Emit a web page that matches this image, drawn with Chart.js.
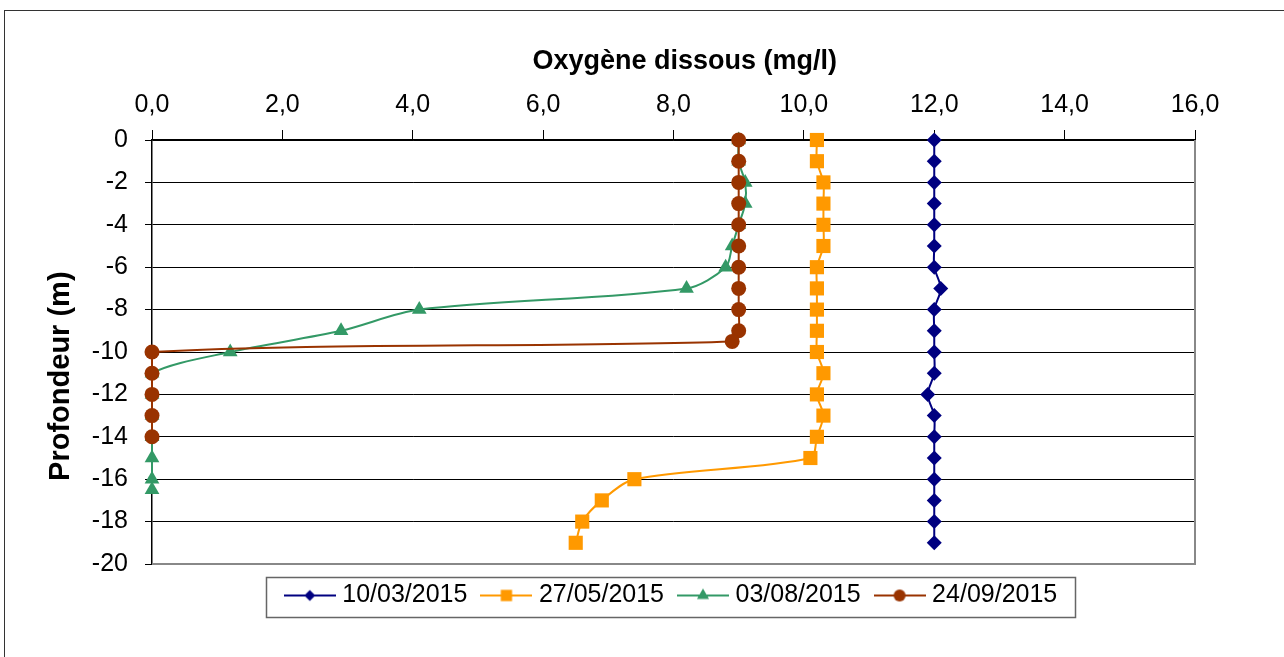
<!DOCTYPE html>
<html>
<head>
<meta charset="utf-8">
<script src="https://cdn.jsdelivr.net/npm/chart.js@4.4.1/dist/chart.umd.min.js"></script>
<style>
  html, body { margin: 0; padding: 0; background: #fff; }
  #wrap { position: relative; width: 1284px; height: 657px; overflow: hidden; }
  #frame { position: absolute; left: 4px; top: 10px; width: 1400px; height: 800px; border-left: 1px solid #333; border-top: 1px solid #333; }
  canvas { position: absolute; left: 0; top: 0; }
</style>
</head>
<body>
<div id="wrap">
  <div id="frame"></div>
  <canvas id="c" width="1284" height="657"></canvas>
</div>
<script>
// ---- Data ----
const seriesNames = ['10/03/2015', '27/05/2015', '03/08/2015', '24/09/2015'];

const depthsMar = [0, -1, -2, -3, -4, -5, -6, -7, -8, -9, -10, -11, -12, -13, -14, -15, -16, -17, -18, -19];
const oxyMar    = [12.0, 12.0, 12.0, 12.0, 12.0, 12.0, 12.0, 12.1, 12.0, 12.0, 12.0, 12.0, 11.9, 12.0, 12.0, 12.0, 12.0, 12.0, 12.0, 12.0];

const depthsMay = [0, -1, -2, -3, -4, -5, -6, -7, -8, -9, -10, -11, -12, -13, -14, -15, -16, -17, -18, -19];
const oxyMay    = [10.2, 10.2, 10.3, 10.3, 10.3, 10.3, 10.2, 10.2, 10.2, 10.2, 10.2, 10.3, 10.2, 10.3, 10.2, 10.1, 7.4, 6.9, 6.6, 6.5];

const depthsAug = [0, -1, -2, -3, -4, -5, -6, -7, -8, -9, -10, -11, -12, -13, -14, -15, -16, -16.5];
const oxyAug    = [9.0, 9.0, 9.1, 9.1, 9.0, 8.9, 8.8, 8.2, 4.1, 2.9, 1.2, 0, 0, 0, 0, 0, 0, 0];

const depthsSep = [0, -1, -2, -3, -4, -5, -6, -7, -8, -9, -9.5, -10, -11, -12, -13, -14];
const oxySep    = [9.0, 9.0, 9.0, 9.0, 9.0, 9.0, 9.0, 9.0, 9.0, 9.0, 8.9, 0, 0, 0, 0, 0];

const xTicks = [0, 2, 4, 6, 8, 10, 12, 14, 16];
const yTicks = [0, -2, -4, -6, -8, -10, -12, -14, -16, -18, -20];

// ---- Styles ----
const colors = ['#000080', '#FF9900', '#339966', '#993300'];
const styles = ['rectRot', 'rect', 'triangle', 'circle'];
const radii  = [7.5, 10, 8.5, 7.5];
const legendRadii = [5.5, 8, 7, 6];
const drawOrder = [4, 3, 2, 1];
const FONT = '"Liberation Sans", Arial, sans-serif';

function pts(xs, ys) { return xs.map((v, i) => ({ x: v, y: ys[i] })); }
const allData = [pts(oxyMar, depthsMar), pts(oxyMay, depthsMay), pts(oxyAug, depthsAug), pts(oxySep, depthsSep)];

function legendIcon(i) {
  const cv = document.createElement('canvas');
  cv.width = 52; cv.height = 20;
  const ctx = cv.getContext('2d');
  ctx.strokeStyle = colors[i];
  ctx.lineWidth = 2;
  ctx.beginPath(); ctx.moveTo(0, 10); ctx.lineTo(52, 10); ctx.stroke();
  ctx.fillStyle = colors[i];
  Chart.helpers.drawPoint(ctx, { pointStyle: styles[i], radius: legendRadii[i], rotation: 0, borderWidth: 0 }, 26, 10);
  return cv;
}
const legendIcons = seriesNames.map((_, i) => legendIcon(i));

const datasets = seriesNames.map((name, i) => ({
  label: name,
  data: allData[i],
  showLine: true,
  clip: false,
  borderColor: colors[i],
  backgroundColor: colors[i],
  borderWidth: 2,
  tension: 0.3,
  pointStyle: styles[i],
  pointRadius: radii[i],
  pointHoverRadius: radii[i],
  pointBorderWidth: 0,
  pointBackgroundColor: colors[i],
  order: drawOrder[i]
}));

const framePlugin = {
  id: 'frame',
  beforeDatasetsDraw(chart) {
    const a = chart.chartArea, ctx = chart.ctx;
    ctx.save();
    ctx.strokeStyle = '#888';
    ctx.lineWidth = 2;
    ctx.beginPath();
    ctx.moveTo(a.left, a.bottom); ctx.lineTo(a.right, a.bottom); ctx.lineTo(a.right, a.top);
    ctx.stroke();
    ctx.restore();
  },
  afterDraw(chart) {
    const hb = chart.legend.legendHitBoxes;
    if (!hb || !hb.length) return;
    const ctx = chart.ctx;
    const first = hb[0], last = hb[hb.length - 1];
    const cy = first.top + first.height / 2;
    const l = first.left - 24, r = last.left + last.width + 18;
    ctx.save();
    ctx.strokeStyle = '#666';
    ctx.lineWidth = 1.5;
    ctx.strokeRect(Math.round(l) + 0.5, Math.round(cy - 19) + 0.5, Math.round(r - l), 40);
    ctx.restore();
  }
};

new Chart(document.getElementById('c'), {
  type: 'scatter',
  data: { datasets },
  plugins: [framePlugin],
  options: {
    responsive: false,
    animation: false,
    layout: { padding: { left: 0, right: 89, top: 0, bottom: 39 } },
    plugins: {
      tooltip: { enabled: false },
      legend: {
        position: 'bottom',
        fullSize: false,
        labels: {
          usePointStyle: true,
          pointStyleWidth: 40,
          padding: 19,
          color: '#000',
          font: { family: FONT, size: 25 },
          generateLabels(chart) {
            const items = Chart.defaults.plugins.legend.labels.generateLabels(chart);
            items.forEach(it => { it.pointStyle = legendIcons[it.datasetIndex]; it.lineWidth = 0; });
            return items;
          },
          sort: (a, b) => a.datasetIndex - b.datasetIndex
        }
      }
    },
    scales: {
      x: {
        type: 'linear',
        position: 'top',
        min: 0, max: 16,
        afterFit(s) { s.height = 140; },
        afterBuildTicks(s) { s.ticks = xTicks.map(v => ({ value: v })); },
        ticks: {
          padding: 10,
          color: '#000',
          font: { family: FONT, size: 25 },
          callback: v => v.toFixed(1).replace('.', ',')
        },
        grid: { drawOnChartArea: false, drawTicks: true, tickLength: 10, color: '#000', lineWidth: 1 },
        border: { display: true, color: '#000', width: 1.5 },
        title: {
          display: true,
          text: '\u00a0\u00a0\u00a0Oxygène dissous (mg/l)',
          color: '#000',
          font: { family: FONT, size: 27, weight: 'bold' },
          padding: { top: 45, bottom: 0 }
        }
      },
      y: {
        type: 'linear',
        min: -20, max: 0,
        afterFit(s) { s.width = 152; },
        afterBuildTicks(s) { s.ticks = yTicks.map(v => ({ value: v })); },
        ticks: {
          padding: 17,
          color: '#000',
          font: { family: FONT, size: 25 },
          callback: v => String(v)
        },
        grid: {
          color: ctx => (ctx.tick && ctx.tick.value === -20) ? '#888' : '#000',
          lineWidth: 1,
          tickLength: 7,
          tickColor: '#000'
        },
        border: { display: true, color: '#000', width: 1.5 },
        title: {
          display: true,
          text: 'Profondeur (m)\u00a0\u00a0\u00a0\u00a0\u00a0\u00a0',
          color: '#000',
          font: { family: FONT, size: 29, weight: 'bold' },
          padding: { top: 44, bottom: 0 }
        }
      }
    }
  }
});
</script>
</body>
</html>
